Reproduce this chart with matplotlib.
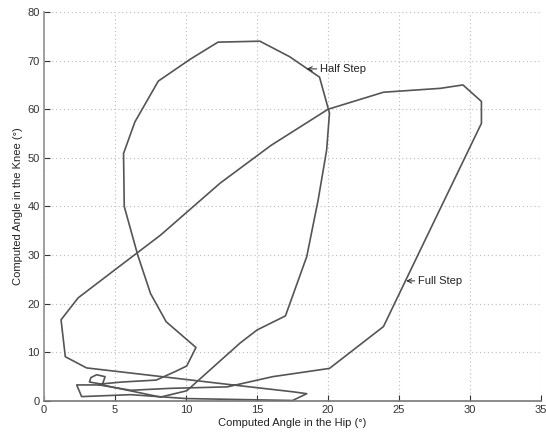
import matplotlib
matplotlib.use("Agg")
import matplotlib.pyplot as plt

# Half step loop (hip angle, knee angle)
half_x = [4.0, 3.2, 3.3, 3.7, 4.3, 4.1, 8.2, 10.05, 13.8, 15.0, 17.0, 18.5, 19.3, 19.9, 20.1,
          19.4, 17.3, 15.2, 12.25, 10.3, 8.05, 6.4, 5.6, 5.65, 6.6, 7.5, 8.6, 10.7,
          10.05, 9.2, 7.9, 5.5, 4.0]
half_y = [3.5, 3.9, 4.8, 5.4, 5.0, 3.3, 0.8, 2.1, 11.9, 14.6, 17.5, 29.7, 41.3, 51.6, 59.2,
          66.6, 70.8, 74.0, 73.8, 70.3, 65.8, 57.4, 50.9, 40.0, 30.0, 22.1, 16.3, 11.0,
          7.2, 6.0, 4.3, 3.9, 3.5]

# Full step loop
full_x = [3.9, 2.3, 2.65, 6.1, 10.0, 17.5, 18.5, 17.5, 13.0, 8.9, 3.0, 1.5, 1.2, 2.4,
          5.0, 8.2, 12.4, 16.0, 20.0, 23.9, 27.9, 29.5, 30.8, 30.8, 26.9, 23.9, 20.1,
          16.1, 12.9, 8.9, 6.1, 3.9]
full_y = [3.3, 3.3, 0.9, 1.3, 0.5, 0.1, 1.5, 1.9, 3.4, 4.8, 6.8, 9.1, 16.7, 21.2,
          27.0, 34.1, 44.8, 52.6, 60.0, 63.5, 64.3, 65.0, 61.6, 57.1, 33.5, 15.3, 6.7,
          5.0, 2.9, 2.6, 2.2, 3.3]

x_ticks = [0, 5, 10, 15, 20, 25, 30, 35]
y_ticks = [0, 10, 20, 30, 40, 50, 60, 70, 80]

plt.rcParams['font.family'] = ['Liberation Sans', 'DejaVu Sans']

fig = plt.figure(figsize=(5.46, 4.32), dpi=100)
ax = fig.add_axes([0.0806, 0.0718, 0.9104, 0.9004])

line_col = '#555555'
ax.plot(half_x, half_y, color=line_col, lw=1.2)
ax.plot(full_x, full_y, color=line_col, lw=1.2)

ax.set_xlim(0, 35)
ax.set_ylim(0, 80)
ax.set_xticks(x_ticks)
ax.set_yticks(y_ticks)
ax.grid(True, linestyle=(0, (1, 2.5)), color='#bbbbbb', lw=0.8)
for s in ['top', 'right']:
    ax.spines[s].set_visible(False)
ax.spines['left'].set_color('#999999')
ax.spines['bottom'].set_color('#777777')
ax.spines['left'].set_linewidth(1.3)
ax.spines['bottom'].set_linewidth(1.2)
ax.tick_params(direction='in', length=4, labelsize=8, colors='#333333', pad=3)

ax.set_xlabel('Computed Angle in the Hip (°)', fontsize=8, color='#222222', labelpad=2)
ax.set_ylabel('Computed Angle in the Knee (°)', fontsize=8, color='#222222', labelpad=3)

ax.annotate('Half Step', xy=(18.5, 68.3), xytext=(19.4, 68.3), fontsize=8,
            va='center', color='#222222',
            arrowprops=dict(arrowstyle='->', color='#222222', lw=0.7, shrinkA=0, shrinkB=0))
ax.annotate('Full Step', xy=(25.5, 24.7), xytext=(26.3, 24.7), fontsize=8,
            va='center', color='#222222',
            arrowprops=dict(arrowstyle='->', color='#222222', lw=0.7, shrinkA=0, shrinkB=0))

fig.savefig('out.png', dpi=100)
